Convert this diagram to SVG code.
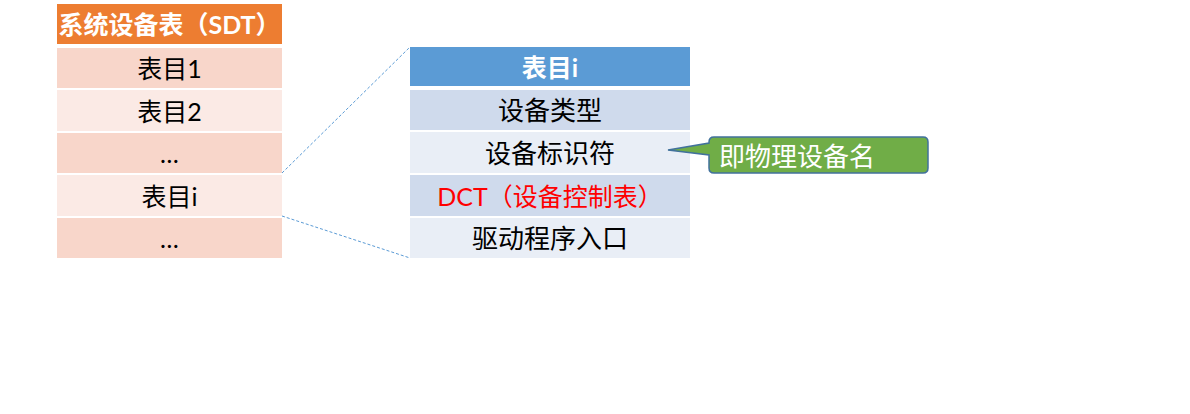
<svg xmlns="http://www.w3.org/2000/svg" width="1190" height="414" viewBox="0 0 1190 414">
<style>
text{font-family:Lato,"Noto Sans CJK SC",sans-serif;text-anchor:middle;dominant-baseline:central}
.t{font-size:25px;fill:#000}
.r{font-size:26px;fill:#000}
.hw{font-size:25px;fill:#fff;font-weight:bold}
.dark{fill:#F8D6CA}
.light{fill:#FBEAE5}
.bdark{fill:#CFDAEC}
.blight{fill:#E9EEF6}
.conn{stroke:#5B9BD5;stroke-width:1;stroke-dasharray:3 2;fill:none}
</style>
<rect width="1190" height="414" fill="#fff"/>
<g id="sdt">
  <rect x="57" y="4" width="225" height="40" fill="#ED7D31"/>
  <text class="hw" x="169.5" y="24">系统设备表（SDT）</text>
</g>
<g id="sdt-row1"><rect class="dark" x="57" y="48" width="225" height="40"/><text class="t" x="169.5" y="68">表目1</text></g>
<g id="sdt-row2"><rect class="light" x="57" y="90" width="225" height="41"/><text class="t" x="169.5" y="110.5">表目2</text></g>
<g id="sdt-row3"><rect class="dark" x="57" y="133" width="225" height="40"/><text class="t" x="169.5" y="153">…</text></g>
<g id="sdt-row4"><rect class="light" x="57" y="175" width="225" height="41"/><text class="t" x="169.5" y="195.5">表目i</text></g>
<g id="sdt-row5"><rect class="dark" x="57" y="218" width="225" height="40"/><text class="t" x="169.5" y="238">…</text></g>

<g id="entry">
  <rect x="410" y="47" width="280" height="39" fill="#5B9BD5"/>
  <text class="hw" x="550" y="67">表目i</text>
</g>
<g id="entry-row1"><rect class="bdark" x="410" y="90" width="280" height="40"/><text class="r" x="550" y="110">设备类型</text></g>
<g id="entry-row2"><rect class="blight" x="410" y="132" width="280" height="41"/><text class="r" x="550" y="152.5">设备标识符</text></g>
<g id="entry-row3"><rect class="bdark" x="410" y="175" width="280" height="41"/><text x="550" y="195.5" style="font-size:25px;fill:#FF0000">DCT（设备控制表）</text></g>
<g id="entry-row4"><rect class="blight" x="410" y="218" width="280" height="40"/><text class="r" x="550" y="238">驱动程序入口</text></g>

<g id="callout">
  <path d="M714,137 H923 Q928,137 928,142 V168 Q928,173 923,173 H714 Q709,173 709,168 V155 L668,150 L709,143 V142 Q709,137 714,137 Z" fill="#70AD47" stroke="#41719C" stroke-width="1.5"/>
  <text x="797" y="155.5" style="font-size:26px;fill:#fff">即物理设备名</text>
</g>

<g id="connectors">
  <line class="conn" x1="282" y1="173" x2="410" y2="47"/>
  <line class="conn" x1="282" y1="216" x2="410" y2="258"/>
</g>
</svg>
